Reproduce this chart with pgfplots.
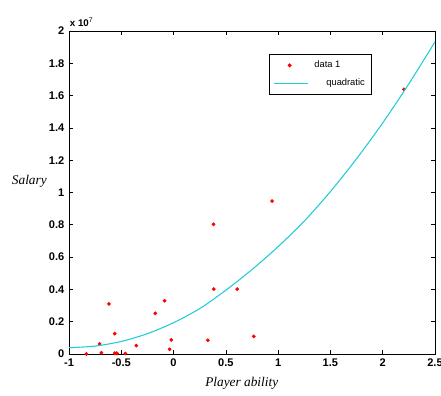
\documentclass[border=0pt]{standalone}
\usepackage{fontspec}
\setmainfont{Liberation Serif}
\setsansfont{Liberation Sans}
\usepackage{pgfplots}
\pgfplotsset{compat=1.18}
\definecolor{fitcyan}{RGB}{30,205,215}
\begin{document}
\begin{tikzpicture}
\useasboundingbox (-51.75pt,-30.75pt) rectangle (279pt,265.5pt);
\begin{axis}[
  at={(0,0)}, anchor=south west,
  scale only axis, width=274.5pt, height=242.25pt,
  xmin=-1, xmax=2.5, ymin=0, ymax=2,
  xtick={-1,-0.5,0,0.5,1,1.5,2,2.5},
  ytick={0,0.2,0.4,0.6,0.8,1,1.2,1.4,1.6,1.8,2},
  tick align=inside, major tick length=3pt,
  tick style={black, line width=0.5pt},
  axis line style={line width=0.6pt},
  /pgf/number format/assume math mode=true,
  ticklabel style={font=\sffamily\bfseries\fontsize{8.3}{9}\selectfont},
  yticklabel style={/pgf/number format/fixed, /pgf/number format/precision=1},
  xticklabel style={/pgf/number format/fixed, /pgf/number format/precision=1},
  scaled ticks=false,
  xlabel={\itshape Player ability},
  label style={font=\fontsize{10}{12}\selectfont},
  xlabel style={at={(axis description cs:0.472,0)}, anchor=north, yshift=-14pt},
  clip mode=individual,
  legend style={draw=black, line width=0.6pt, at={(0.546,0.929)}, anchor=north west,
    font=\sffamily\fontsize{7}{8}\selectfont, inner xsep=3pt, inner ysep=3pt,
    row sep=3pt},
  legend cell align=left,
]
\addplot[only marks, mark=*, mark size=1.2pt, color=red,
  legend image code/.code={\fill[red] (0.42cm,0cm) circle (1.2pt); \path[draw=none] (0cm,0cm) -- (1.0cm,0cm);}]
coordinates {
(-0.834,0.000) (-0.707,0.062) (-0.690,0.008) (-0.618,0.310) (-0.563,0.126)
(-0.563,0.005) (-0.547,0.005) (-0.540,0.003) (-0.461,0.003) (-0.356,0.052)
(-0.175,0.252) (-0.086,0.330) (-0.038,0.029) (-0.022,0.087) (0.328,0.085)
(0.382,0.803) (0.385,0.402) (0.608,0.402) (0.767,0.109) (0.942,0.947)
(2.203,1.639)
};
\addlegendentry{data 1}
\addplot[fitcyan, line width=0.8pt, smooth,
  legend image code/.code={\draw[fitcyan, line width=0.8pt] (0cm,0cm) -- (0.9cm,0cm); \path[draw=none] (1.0cm,0cm);}]
coordinates {
(-1,0.039) (-0.75,0.049) (-0.5,0.078) (-0.25,0.126) (0,0.194) (0.25,0.281)
(0.5,0.395) (0.75,0.523) (1,0.665) (1.25,0.823) (1.5,1.006) (1.75,1.209)
(2,1.431) (2.25,1.673) (2.5,1.933)
};
\addlegendentry{\hspace{9pt}quadratic}
\node[anchor=east, inner sep=0pt, font=\itshape\fontsize{10}{12}\selectfont] at (axis description cs:0,0.535) [xshift=-16.5pt] {Salary};
\end{axis}
\node[anchor=south west, inner sep=0pt, font=\sffamily\bfseries\fontsize{7.3}{8}\selectfont] at (0.5pt,245pt) {x 10$^{\mathsf{7}}$};
\end{tikzpicture}
\end{document}
